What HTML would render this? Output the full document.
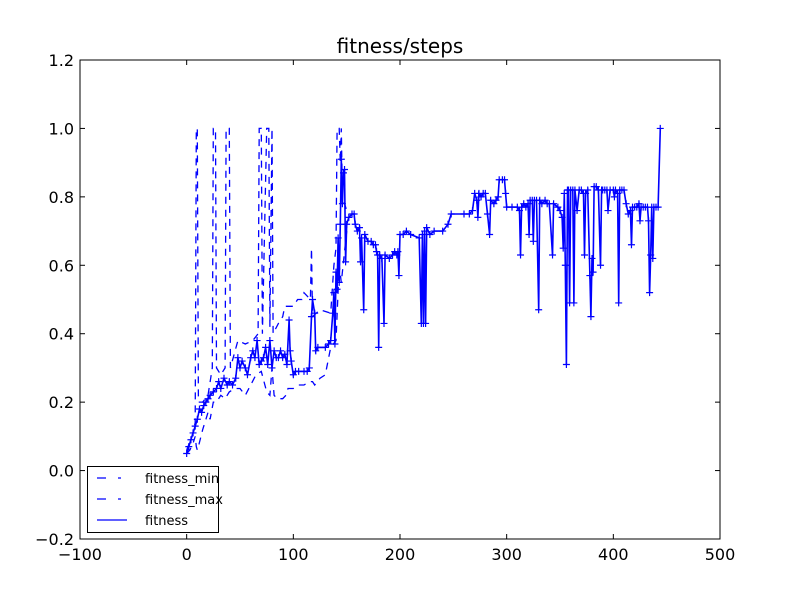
<!DOCTYPE html>
<html><head><meta charset="utf-8"><style>
body{margin:0;background:#fff;}
svg{display:block;font-family:"DejaVu Sans","Liberation Sans",sans-serif;}
</style></head><body>
<svg id="chart" width="800" height="600" viewBox="0 0 800 600" xmlns="http://www.w3.org/2000/svg">
<rect width="800" height="600" fill="#fff"/>
<text x="400" y="53" text-anchor="middle" font-size="20">fitness/steps</text>
<g id="plot"></g>
<rect x="80" y="60" width="640" height="479" fill="none" stroke="#000" stroke-width="1"/>
<g id="axes"></g>
<g>
<rect x="87.5" y="466.5" width="131" height="66" fill="#fff" stroke="#000"/>
<line x1="97" y1="478" x2="127" y2="478" stroke="#0000ff" stroke-width="1.2" stroke-dasharray="9,12,3,100"/>
<text x="145" y="483" font-size="13">fitness_min</text>
<line x1="97" y1="499" x2="127" y2="499" stroke="#0000ff" stroke-width="1.2" stroke-dasharray="9,12,3,100"/>
<text x="145" y="504" font-size="13">fitness_max</text>
<line x1="97" y1="520" x2="127" y2="520" stroke="#0000ff" stroke-width="1.2"/>
<text x="145" y="525" font-size="13">fitness</text>
</g>
</svg>
<script>
const xTicks=[-100,0,100,200,300,400,500];
const yTicks=[-0.2,0.0,0.2,0.4,0.6,0.8,1.0,1.2];
const yTickLabels=["\u22120.2","0.0","0.2","0.4","0.6","0.8","1.0","1.2"];
const fitX=[0,2,4,6,8,10,12,14,16,18,20,22,25,28,30,32,35,38,40,43,46,48,50,52,55,57,60,62,64,66,68,70,72,74,76,78,80,82,84,86,88,90,92,94,96,97,98,100,102,105,110,113,115,117,118,120,121,123,130,133,135,137,138,139,140,141,142,143,144,145,146,147,148,149,150,152,155,157,158,160,162,163,164,166,167,170,173,175,177,178,179,180,181,183,185,186,190,193,195,197,198,199,200,203,206,210,218,220,221,222,223,224,225,228,232,240,245,248,260,265,268,270,272,273,274,276,278,280,282,284,285,288,290,292,293,296,298,299,300,305,310,312,313,314,316,318,320,321,322,324,325,326,328,330,331,333,336,338,340,343,344,348,350,352,353,354,355,356,357,358,359,360,362,363,364,366,368,370,372,373,374,376,378,379,380,381,382,384,386,388,389,390,392,394,395,397,400,401,402,404,405,406,408,410,412,414,416,417,418,420,422,424,425,426,428,430,432,433,434,435,436,437,438,440,442,444];
const fitY=[0.05,0.07,0.09,0.11,0.13,0.15,0.18,0.17,0.19,0.2,0.21,0.22,0.23,0.24,0.26,0.24,0.27,0.25,0.26,0.25,0.27,0.33,0.30,0.32,0.30,0.28,0.33,0.35,0.33,0.38,0.31,0.32,0.33,0.36,0.31,0.38,0.30,0.35,0.33,0.33,0.35,0.33,0.34,0.31,0.44,0.35,0.32,0.28,0.29,0.29,0.29,0.29,0.30,0.45,0.50,0.46,0.35,0.36,0.36,0.37,0.38,0.46,0.52,0.37,0.58,0.53,0.68,0.55,0.72,0.91,0.78,0.87,0.88,0.61,0.72,0.74,0.75,0.75,0.72,0.70,0.71,0.61,0.68,0.47,0.69,0.67,0.67,0.66,0.66,0.64,0.63,0.36,0.63,0.62,0.43,0.63,0.62,0.63,0.64,0.63,0.64,0.57,0.69,0.69,0.70,0.69,0.68,0.43,0.69,0.43,0.70,0.43,0.71,0.69,0.70,0.70,0.72,0.75,0.75,0.75,0.76,0.81,0.79,0.74,0.81,0.80,0.81,0.81,0.75,0.69,0.79,0.78,0.79,0.80,0.85,0.85,0.85,0.81,0.77,0.77,0.77,0.76,0.63,0.77,0.78,0.77,0.78,0.69,0.79,0.79,0.67,0.79,0.79,0.47,0.79,0.78,0.79,0.78,0.78,0.63,0.78,0.77,0.76,0.74,0.65,0.81,0.60,0.31,0.82,0.82,0.49,0.82,0.82,0.49,0.82,0.76,0.82,0.82,0.81,0.63,0.81,0.82,0.57,0.45,0.62,0.58,0.83,0.83,0.82,0.60,0.82,0.82,0.82,0.82,0.76,0.82,0.82,0.80,0.82,0.81,0.49,0.82,0.82,0.82,0.78,0.75,0.76,0.66,0.77,0.77,0.77,0.78,0.73,0.77,0.77,0.77,0.77,0.73,0.52,0.63,0.77,0.62,0.77,0.77,0.77,1.0];
const maxX=[0,5,8,9,10,11,15,20,24,25,27,28,32,36,37,40,41,48,55,62,67,68,70,71,75,77,78,80,81,86,90,92,100,104,108,110,116,117,118,125,135,138,140,141,143,144,145,146,150];
const maxY=[0.06,0.1,0.14,1.0,1.0,0.2,0.2,0.22,0.3,1.0,1.0,0.3,0.28,0.3,1.0,1.0,0.3,0.38,0.37,0.38,0.4,1.0,1.0,0.4,1.0,1.0,0.42,1.0,0.4,0.43,0.45,0.48,0.48,0.5,0.5,0.52,0.5,0.65,0.45,0.47,0.46,0.6,0.65,1.0,1.0,0.9,1.0,0.8,0.76];
const minX=[0,3,6,8,9,10,11,15,18,20,22,25,28,32,36,40,45,50,55,60,65,70,75,78,80,82,85,90,93,95,100,105,110,115,118,120,125,130,135,140,143,145,150];
const minY=[0.05,0.06,0.08,0.1,0.07,0.06,0.07,0.12,0.15,0.17,0.15,0.2,0.2,0.22,0.21,0.23,0.24,0.24,0.22,0.25,0.28,0.29,0.23,0.22,0.3,0.22,0.21,0.21,0.22,0.24,0.24,0.25,0.25,0.26,0.26,0.25,0.27,0.28,0.36,0.38,0.6,0.55,0.7];

const L=80,R=720,T=60,B=539;
const sx=v=>L+(v-(-100))/600*(R-L);
const sy=v=>B-(v-(-0.2))/1.4*(B-T);
const NS="http://www.w3.org/2000/svg";
const plot=document.getElementById('plot'), axes=document.getElementById('axes');
function mk(tag,attrs,parent){const e=document.createElementNS(NS,tag);for(const k in attrs)e.setAttribute(k,attrs[k]);parent.appendChild(e);return e;}

const clip=mk('clipPath',{id:'cp'},plot);mk('rect',{x:L,y:T,width:R-L,height:B-T},clip);
const g=mk('g',{'clip-path':'url(#cp)'},plot);

function line(xs,ys,name,dash){
  const d=xs.map((x,i)=>(i?'L':'M')+sx(x).toFixed(1)+','+sy(ys[i]).toFixed(1)).join('');
  const p=mk('path',{d:d,fill:'none',stroke:'#0000ff','stroke-width':dash?1.3:1.6},g);
  if(dash)p.setAttribute('stroke-dasharray','7,6');
  
  
}
line(minX,minY,'fitness-min-line',true);
line(maxX,maxY,'fitness-max-line',true);
line(fitX,fitY,'fitness-line',false);
fitX.forEach((x,i)=>{
  const cx=sx(x),cy=sy(fitY[i]);
  const m=mk('path',{d:`M${cx-3.5},${cy}H${cx+3.5}M${cx},${cy-3.5}V${cy+3.5}`,stroke:'#0000ff','stroke-width':1.2},g);
  
  
});

xTicks.forEach(v=>{
  const x=sx(v);
  mk('line',{x1:x,y1:B,x2:x,y2:B-5,stroke:'#000'},axes);
  mk('line',{x1:x,y1:T,x2:x,y2:T+5,stroke:'#000'},axes);
  const t=mk('text',{x:x,y:B+21,'text-anchor':'middle','font-size':16},axes);
  t.textContent=(v<0?'\u2212'+(-v):v);
  
  
});
yTicks.forEach((v,i)=>{
  const y=sy(v);
  mk('line',{x1:L,y1:y,x2:L+5,y2:y,stroke:'#000'},axes);
  mk('line',{x1:R,y1:y,x2:R-5,y2:y,stroke:'#000'},axes);
  const t=mk('text',{x:L-6,y:y+6,'text-anchor':'end','font-size':16},axes);
  t.textContent=yTickLabels[i];
  
  
});
</script>
</body></html>
